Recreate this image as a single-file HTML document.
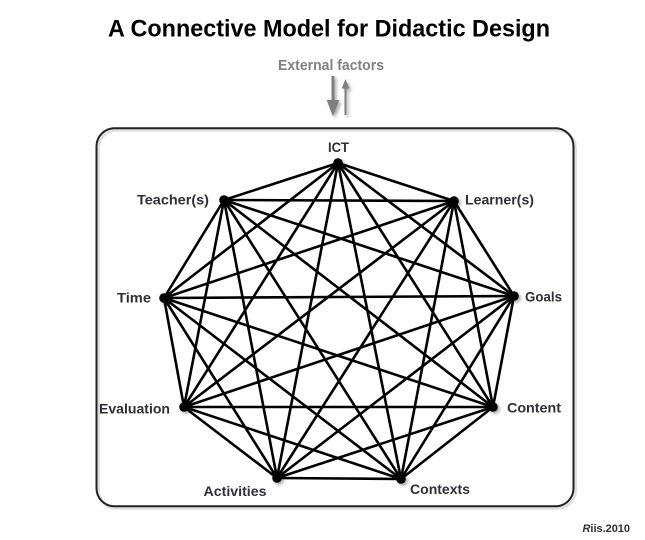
<!DOCTYPE html>
<html><head><meta charset="utf-8"><style>
html,body{margin:0;padding:0;background:#fff;}
svg{display:block;}
text{font-family:"Liberation Sans",sans-serif;font-weight:bold;}
</style></head><body>
<svg width="645" height="540" viewBox="0 0 645 540" xmlns="http://www.w3.org/2000/svg">
<defs>
<filter id="sh" x="-20%" y="-20%" width="140%" height="140%">
<feGaussianBlur in="SourceAlpha" stdDeviation="1.5"/>
<feOffset dx="2" dy="2" result="b"/>
<feComponentTransfer><feFuncA type="linear" slope="0.35"/></feComponentTransfer>
<feMerge><feMergeNode/><feMergeNode in="SourceGraphic"/></feMerge>
</filter>
</defs>
<text x="108" y="36.5" font-size="24.5" textLength="442" lengthAdjust="spacingAndGlyphs" fill="#000">A Connective Model for Didactic Design</text>
<text x="278" y="70" font-size="14.5" textLength="106" lengthAdjust="spacingAndGlyphs" fill="#808080">External factors</text>
<g filter="url(#sh)" fill="#7f7f7f">
<rect x="331.5" y="76" width="3" height="25"/>
<polygon points="326.7,100 339.3,100 333,116.5"/>
<rect x="344.5" y="87" width="2" height="28"/>
<polygon points="341.7,88.5 349.3,88.5 345.5,79"/>
</g>
<rect x="96.5" y="128.3" width="477" height="378" rx="18" ry="18" fill="none" stroke="#e0e0e0" stroke-width="3" transform="translate(2,2)"/>
<rect x="96.5" y="128.3" width="477" height="378" rx="18" ry="18" fill="none" stroke="#222" stroke-width="2"/>
<g stroke="#000" stroke-width="2.6" stroke-linecap="round" id="edges">
<line x1="338" y1="163" x2="454" y2="201"/><line x1="338" y1="163" x2="514" y2="296"/><line x1="338" y1="163" x2="493" y2="407"/><line x1="338" y1="163" x2="401" y2="479"/><line x1="338" y1="163" x2="277" y2="478"/><line x1="338" y1="163" x2="184" y2="407"/><line x1="338" y1="163" x2="164" y2="298"/><line x1="338" y1="163" x2="224" y2="200"/>
<line x1="454" y1="201" x2="514" y2="296"/><line x1="454" y1="201" x2="493" y2="407"/><line x1="454" y1="201" x2="401" y2="479"/><line x1="454" y1="201" x2="277" y2="478"/><line x1="454" y1="201" x2="184" y2="407"/><line x1="454" y1="201" x2="164" y2="298"/><line x1="454" y1="201" x2="224" y2="200"/>
<line x1="514" y1="296" x2="493" y2="407"/><line x1="514" y1="296" x2="401" y2="479"/><line x1="514" y1="296" x2="277" y2="478"/><line x1="514" y1="296" x2="184" y2="407"/><line x1="514" y1="296" x2="164" y2="298"/><line x1="514" y1="296" x2="224" y2="200"/>
<line x1="493" y1="407" x2="401" y2="479"/><line x1="493" y1="407" x2="277" y2="478"/><line x1="493" y1="407" x2="184" y2="407"/><line x1="493" y1="407" x2="164" y2="298"/><line x1="493" y1="407" x2="224" y2="200"/>
<line x1="401" y1="479" x2="277" y2="478"/><line x1="401" y1="479" x2="184" y2="407"/><line x1="401" y1="479" x2="164" y2="298"/><line x1="401" y1="479" x2="224" y2="200"/>
<line x1="277" y1="478" x2="184" y2="407"/><line x1="277" y1="478" x2="164" y2="298"/><line x1="277" y1="478" x2="224" y2="200"/>
<line x1="184" y1="407" x2="164" y2="298"/><line x1="184" y1="407" x2="224" y2="200"/>
<line x1="164" y1="298" x2="224" y2="200"/>
</g>
<g fill="#000" filter="url(#sh)">
<circle cx="338" cy="163" r="4.8"/><circle cx="454" cy="201" r="4.8"/><circle cx="514" cy="296" r="4.8"/><circle cx="493" cy="407" r="4.8"/><circle cx="401" cy="479" r="4.8"/><circle cx="277" cy="478" r="4.8"/><circle cx="184" cy="407" r="4.8"/><circle cx="164" cy="298" r="4.8"/><circle cx="224" cy="200" r="4.8"/>
</g>
<g fill="#2f3038" font-size="14">
<text x="328" y="152" textLength="21" lengthAdjust="spacingAndGlyphs">ICT</text>
<text x="137" y="204.5" textLength="72" lengthAdjust="spacingAndGlyphs">Teacher(s)</text>
<text x="465" y="204.5" textLength="69" lengthAdjust="spacingAndGlyphs">Learner(s)</text>
<text x="117" y="302.5" textLength="34" lengthAdjust="spacingAndGlyphs">Time</text>
<text x="525" y="301.5" textLength="37" lengthAdjust="spacingAndGlyphs">Goals</text>
<text x="99" y="413.3" textLength="71" lengthAdjust="spacingAndGlyphs">Evaluation</text>
<text x="507" y="412.3" textLength="54" lengthAdjust="spacingAndGlyphs">Content</text>
<text x="203.5" y="496" textLength="63" lengthAdjust="spacingAndGlyphs">Activities</text>
<text x="410" y="494" textLength="60" lengthAdjust="spacingAndGlyphs">Contexts</text>
</g>
<text x="582.5" y="532" font-size="11" fill="#2f3038" textLength="47.5" lengthAdjust="spacingAndGlyphs"><tspan font-style="italic">R</tspan>iis.2010</text>
</svg>
</body></html>
